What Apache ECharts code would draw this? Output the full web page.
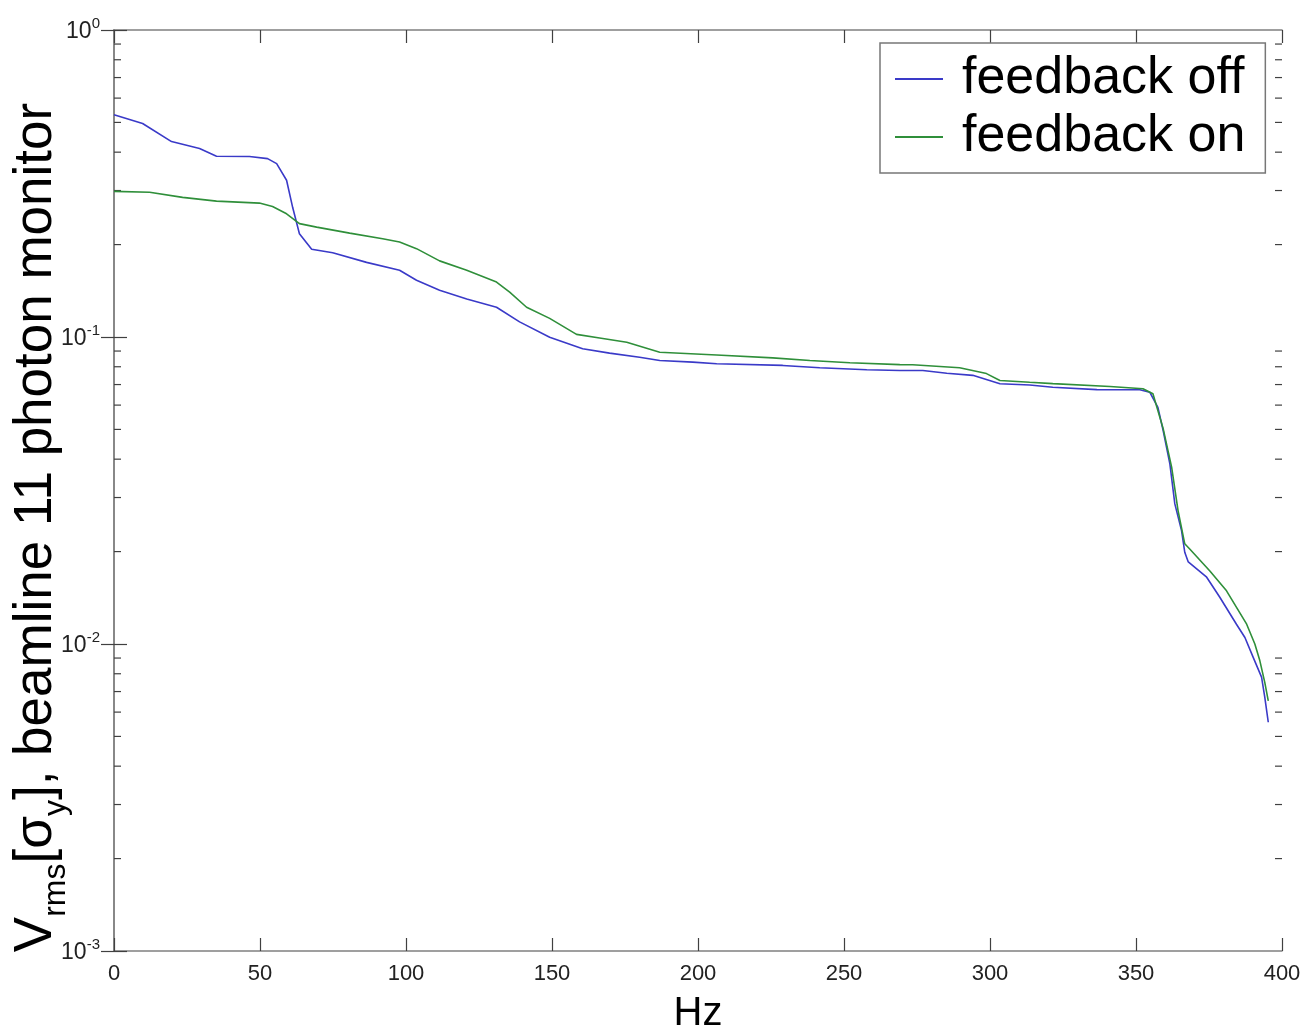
<!DOCTYPE html>
<html lang="en" style="height: 100%">
<head>
    <meta charset="UTF-8">
    <title>feedback</title>
    <script type="text/javascript" src="https://cdn.jsdelivr.net/npm/echarts@6/dist/echarts.min.js"></script>
</head>
<body style="height: 100%;margin: 0;background:#fff">

<div id="main" style="width:1307px;height:1034px"></div>

<script type="text/javascript">
    // feedback off (blue)
    var freqOff = [0, 9.8, 19.7, 29.3, 35.1, 46.4, 52.6, 55.7, 59.1, 61.2, 63.5, 67.7, 74.9, 86.5, 97.8, 103.6, 111.5, 120.8,
        131, 138.9, 149.2, 160.5, 169.7, 180, 186.9, 198.2, 206.4, 229, 241.7, 257.8, 269.1, 277, 285.2, 294.1, 303.4,
        313.6, 321.5, 336.6, 351.3, 354.7, 357.5, 359.3, 361.6, 363.3, 365.6, 366.7, 367.9, 374.2, 378.7, 384.4, 387.3,
        390.1, 393, 394.1, 395.3];
    var valOff = [0.53, 0.496, 0.433, 0.411, 0.388, 0.387, 0.381, 0.367, 0.324, 0.264, 0.217, 0.193, 0.188, 0.175, 0.165,
        0.153, 0.142, 0.133, 0.125, 0.112, 0.0998, 0.0916, 0.0886, 0.0859, 0.0838, 0.0828, 0.0818, 0.0808, 0.0794, 0.0782,
        0.0778, 0.0778, 0.0762, 0.0750, 0.0704, 0.0698, 0.0686, 0.0674, 0.0673, 0.0661, 0.059, 0.0496, 0.0386, 0.0286,
        0.0234, 0.0199, 0.0185, 0.0165, 0.0142, 0.0116, 0.0105, 0.00906, 0.0078, 0.00671, 0.00556];

    // feedback on (green)
    var freqOn = [0, 12.2, 23.5, 35.1, 49.8, 54.3, 59.1, 63.5, 69.4, 80.7, 92, 97.8, 103.6, 111.5, 120.8, 131, 135.5, 141.3,
        149.2, 158.4, 166.3, 175.6, 186.9, 206.4, 225.6, 238.3, 252, 269.1, 273.5, 289.6, 298.8, 303.4, 313.6, 321.5,
        341.1, 352.4, 355.8, 359.3, 362.2, 364.4, 366.7, 368.4, 375.3, 381, 387.9, 390.7, 392.4, 394.1, 395.3];
    var valOn = [0.298, 0.296, 0.285, 0.277, 0.273, 0.266, 0.252, 0.234, 0.228, 0.218, 0.209, 0.204, 0.194, 0.177, 0.165,
        0.151, 0.140, 0.125, 0.115, 0.102, 0.0993, 0.0961, 0.0892, 0.0874, 0.0855, 0.0838, 0.0824, 0.0813, 0.0812, 0.0794,
        0.0760, 0.0722, 0.0712, 0.0705, 0.0690, 0.0678, 0.0653, 0.0503, 0.0377, 0.0272, 0.0212, 0.0204, 0.0173, 0.0149,
        0.0116, 0.0100, 0.00883, 0.0075, 0.00653];

    var seriesNames = ['feedback off', 'feedback on'];

    // minor log ticks 2..9 x 10^k
    var minorTicks = [];
    for (var k = -3; k < 0; k++) {
        for (var m = 2; m <= 9; m++) {
            minorTicks.push(m * Math.pow(10, k));
        }
    }

    var font = 'Liberation Sans, Arial, Helvetica, sans-serif';

    function pairs(xs, ys) {
        return xs.map(function (x, i) { return [x, ys[i]]; });
    }

    var chart = echarts.init(document.getElementById('main'));

    var axisLineStyle = {color: '#808080', width: 1.5};
    var tickStyle = {color: '#404040', width: 1.2};

    var option = {
        animation: false,
        backgroundColor: '#fff',
        grid: {left: 114, right: 25, top: 30, bottom: 83, containLabel: false, outerBoundsMode: 'none'},
        legend: {
            data: seriesNames,
            orient: 'vertical',
            left: 880,
            top: 43,
            padding: [10, 20, 10, 15],
            itemGap: 6,
            itemWidth: 48,
            itemHeight: 2,
            icon: 'rect',
            borderColor: '#777',
            borderWidth: 1.5,
            backgroundColor: '#fff',
            textStyle: {fontSize: 52, color: '#000', fontFamily: font, padding: [0, 0, 0, 14]}
        },
        xAxis: [{
            type: 'value',
            min: 0,
            max: 400,
            interval: 50,
            position: 'bottom',
            name: 'Hz',
            nameLocation: 'middle',
            nameGap: 43,
            nameMoveOverlap: false,
            nameTextStyle: {fontSize: 40, color: '#000', fontFamily: font},
            axisLine: {lineStyle: axisLineStyle},
            axisTick: {inside: true, length: 13, lineStyle: tickStyle},
            axisLabel: {fontSize: 22, color: '#222', margin: 12, fontFamily: font},
            splitLine: {show: false}
        }, {
            type: 'value',
            min: 0,
            max: 400,
            interval: 50,
            position: 'top',
            axisLine: {lineStyle: axisLineStyle},
            axisTick: {inside: true, length: 13, lineStyle: tickStyle},
            axisLabel: {show: false},
            splitLine: {show: false}
        }],
        yAxis: [{
            type: 'log',
            logBase: 10,
            min: 0.001,
            max: 1,
            position: 'left',
            name: '{v|V}{s|rms}{v|[σ}{s|y}{v|], beamline 11 photon monitor}',
            nameLocation: 'middle',
            nameRotate: 90,
            nameGap: 73,
            nameMoveOverlap: false,
            nameTextStyle: {
                color: '#000',
                fontFamily: font,
                align: 'center',
                verticalAlign: 'middle',
                padding: [0, 74, 0, 0],
                rich: {
                    v: {fontSize: 53, fontFamily: font, color: '#000', verticalAlign: 'bottom', padding: [0, 0, 9, 0]},
                    s: {fontSize: 32, fontFamily: font, color: '#000', verticalAlign: 'bottom'}
                }
            },
            axisLine: {lineStyle: axisLineStyle},
            axisTick: {inside: true, length: 13, lineStyle: tickStyle},
            axisLabel: {
                margin: 14,
                formatter: function (v) {
                    return '{a|10}{b|' + Math.round(Math.log10(v)) + '}';
                },
                rich: {
                    a: {fontSize: 23, color: '#222', fontFamily: font, verticalAlign: 'bottom'},
                    b: {fontSize: 15, color: '#222', fontFamily: font, verticalAlign: 'bottom', padding: [0, 0, 12, 0]}
                }
            },
            splitLine: {show: false}
        }, {
            type: 'log',
            logBase: 10,
            min: 0.001,
            max: 1,
            position: 'right',
            axisLine: {lineStyle: axisLineStyle},
            axisTick: {inside: true, length: 13, lineStyle: tickStyle},
            axisLabel: {show: false},
            splitLine: {show: false}
        }],
        series: [{
            name: 'feedback off',
            type: 'line',
            data: pairs(freqOff, valOff),
            showSymbol: false,
            symbol: 'none',
            color: '#3a3ac8',
            lineStyle: {width: 1.6, color: '#3a3ac8'}
        }, {
            name: 'feedback on',
            type: 'line',
            data: pairs(freqOn, valOn),
            showSymbol: false,
            symbol: 'none',
            color: '#2f8f3a',
            lineStyle: {width: 1.6, color: '#2f8f3a'}
        }, {
            name: 'minor',
            type: 'custom',
            silent: true,
            data: minorTicks.map(function (v) { return [0, v]; }),
            renderItem: function (params, api) {
                var p = api.coord([0, api.value(1)]);
                var cs = params.coordSys;
                var len = 7;
                return {
                    type: 'group',
                    children: [{
                        type: 'line',
                        shape: {x1: cs.x, y1: p[1], x2: cs.x + len, y2: p[1]},
                        style: {stroke: '#404040', lineWidth: 1.2}
                    }, {
                        type: 'line',
                        shape: {x1: cs.x + cs.width, y1: p[1], x2: cs.x + cs.width - len, y2: p[1]},
                        style: {stroke: '#404040', lineWidth: 1.2}
                    }]
                };
            }
        }]
    };

    chart.setOption(option);
</script>

</body>
</html>
